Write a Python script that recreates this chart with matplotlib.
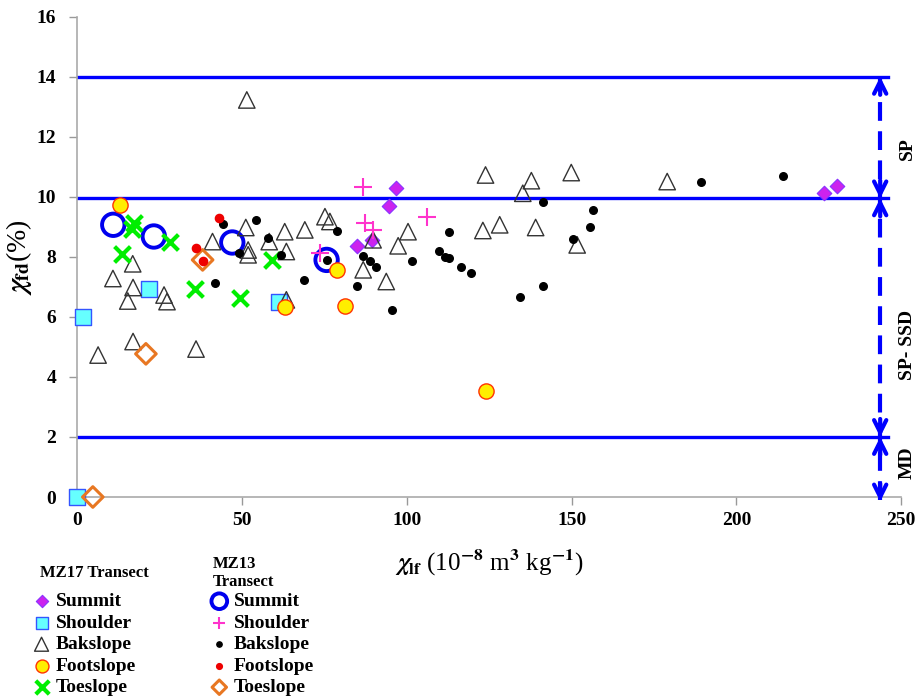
import matplotlib
matplotlib.use('Agg')
import matplotlib.pyplot as plt

plt.rcParams['font.family'] = ['Liberation Serif', 'DejaVu Serif']
plt.rcParams['font.weight'] = 'bold'
plt.rcParams['mathtext.fontset'] = 'stix'

# MZ17 transect
mz17_summit_x = [96.6, 94.5, 84.8, 89.4, 226.7, 230.4]
mz17_summit_y = [10.3, 9.7, 8.37, 8.57, 10.12, 10.37]
mz17_shoulder_x = [1.9, 21.9, 61.2, 0]
mz17_shoulder_y = [6.01, 6.92, 6.5, 0]
mz17_back_x = [51.5, 6.4, 17.0, 36.1, 10.9, 16.9, 17.0, 15.4, 26.4, 27.3, 41.1, 51.2,
               51.9, 51.9, 58.3, 63.0, 63.5, 69.1, 75.2, 76.7, 89.8, 86.8, 93.8, 97.4,
               100.4, 63.5, 123.9, 137.8, 135.2, 149.9, 123.1, 128.2, 139.1, 151.7, 179.0]
mz17_back_y = [13.23, 4.73, 5.18, 4.93, 7.28, 7.77, 6.98, 6.53, 6.73, 6.51, 8.51, 8.98,
               8.23, 8.07, 8.51, 8.84, 8.18, 8.9, 9.34, 9.18, 8.57, 7.57, 7.18, 8.37,
               8.84, 6.57, 10.73, 10.54, 10.12, 10.81, 8.88, 9.07, 8.98, 8.4, 10.51]
mz17_foot_x = [13.0, 79.0, 63.0, 81.2, 123.9]
mz17_foot_y = [9.73, 7.57, 6.34, 6.38, 3.53]
mz17_toe_x = [17.3, 16.6, 28.2, 13.5, 35.8, 49.4, 59.0]
mz17_toe_y = [9.12, 8.93, 8.51, 8.1, 6.92, 6.64, 7.9]

# MZ13 transect
mz13_summit_x = [11.0, 23.3, 47.1, 75.7]
mz13_summit_y = [9.07, 8.68, 8.48, 7.9]
mz13_shoulder_x = [86.8, 87.3, 89.8, 73.6, 106.2]
mz13_shoulder_y = [10.32, 9.12, 8.9, 8.12, 9.33]
mz13_back_x = [44.2, 54.2, 41.8, 49.1, 58.0, 62.0, 78.9, 75.7, 68.8, 86.8, 88.8, 90.6,
               84.8, 101.6, 95.5, 112.8, 109.7, 111.5, 112.8, 116.6, 119.6, 134.5, 141.3,
               141.3, 156.5, 155.5, 150.4, 189.3, 214.2]
mz13_back_y = [9.09, 9.23, 7.12, 8.14, 8.62, 8.07, 8.87, 7.9, 7.23, 8.03, 7.87, 7.66,
               7.03, 7.87, 6.23, 8.84, 8.2, 8.01, 7.96, 7.66, 7.48, 6.66, 7.04,
               9.84, 9.57, 8.98, 8.6, 10.51, 10.7]
mz13_foot_x = [43.1, 36.1, 38.1]
mz13_foot_y = [9.29, 8.31, 7.88]
mz13_toe_x = [38.1, 20.9, 4.8]
mz13_toe_y = [7.9, 4.77, 0]

# class limits
limits = [14, 9.95, 2]
arrow_x = 243.6

fig = plt.figure(figsize=(9.21, 7), dpi=100)
ax = fig.add_axes([0.0836, 0.29, 0.895, 0.686])

for yl in limits:
    ax.plot([0, 246], [yl, yl], color='#0000ff', lw=2.4, zorder=1)

s1 = ax.scatter(mz17_summit_x, mz17_summit_y, marker='D', s=55, c='#cc22ee',
                edgecolors='#8833ff', linewidths=0.8, zorder=3, label='Summit')
s2 = ax.scatter(mz17_shoulder_x, mz17_shoulder_y, marker='s', s=120, c='#66ffff',
                edgecolors='#3355ff', linewidths=1, zorder=3, clip_on=False, label='Shoulder')
s3 = ax.scatter(mz17_back_x, mz17_back_y, marker='^', s=140, facecolors='none',
                edgecolors='#333333', linewidths=1, zorder=3, label='Bakslope')
s4 = ax.scatter(mz17_foot_x, mz17_foot_y, marker='o', s=120, c='#ffee00',
                edgecolors='#ff3300', linewidths=1, zorder=3, label='Footslope')
s5 = ax.scatter(mz17_toe_x, mz17_toe_y, marker='x', s=130, c='#00ee00',
                linewidths=3, zorder=3, label='Toeslope')

t1 = ax.scatter(mz13_summit_x, mz13_summit_y, marker='o', s=260, facecolors='none',
                edgecolors='#0000ee', linewidths=2.8, zorder=2, label='Summit')
t2 = ax.scatter(mz13_shoulder_x, mz13_shoulder_y, marker='+', s=150, c='#ff33cc',
                linewidths=1.5, zorder=3, label='Shoulder')
t3 = ax.scatter(mz13_back_x, mz13_back_y, marker='o', s=30, c='black',
                zorder=4, label='Bakslope')
t4 = ax.scatter(mz13_foot_x, mz13_foot_y, marker='o', s=35, c='#ee0000',
                zorder=4, label='Footslope')
t5 = ax.scatter(mz13_toe_x, mz13_toe_y, marker='D', s=110, facecolors='none',
                edgecolors='#e87722', linewidths=2.2, zorder=3, clip_on=False, label='Toeslope')

# dashed arrows on the right
ax.plot([arrow_x, arrow_x], [-0.1, 14], color='#0000ff', lw=3, dashes=(4.5, 2.5),
        zorder=2, clip_on=False)
heads = [(14, 13.4), (limits[1], limits[1] + 0.6), (limits[1], limits[1] - 0.6),
         (2, 2.6), (2, 1.4), (-0.15, 0.45)]
for tip, tail in heads:
    ax.annotate('', xy=(arrow_x, tip), xytext=(arrow_x, tail),
                arrowprops=dict(arrowstyle='->', lw=3, color='#0000ff', mutation_scale=22,
                                shrinkA=0, shrinkB=0),
                annotation_clip=False)

ax.text(251.8, 11.6, 'SP', rotation=90, ha='center', va='center', fontsize=14)
ax.text(251.8, 5.07, 'SP- SSD', rotation=90, ha='center', va='center', fontsize=14)
ax.text(251.8, 1.13, 'MD', rotation=90, ha='center', va='center', fontsize=14)

ax.set_xlim(0, 250)
ax.set_ylim(0, 16)
ax.set_xticks(range(0, 251, 50))
ax.set_yticks(range(0, 17, 2))
ax.tick_params(axis='both', colors='#999999', labelcolor='black', labelsize=14,
               length=6, width=1)
ax.tick_params(axis='y', pad=9)
ax.tick_params(axis='x', pad=5)
for sp in ['top', 'right']:
    ax.spines[sp].set_visible(False)
for sp in ['left', 'bottom']:
    ax.spines[sp].set_color('#aaaaaa')
    ax.spines[sp].set_linewidth(1.2)

ax.set_xlabel(r'$\chi_{\mathbf{lf}}$ (10$^{\mathbf{-8}}$ m$^{\mathbf{3}}$ kg$^{\mathbf{-1}}$)',
              fontsize=18, labelpad=13)
ax.set_ylabel(r'$\chi_{\mathbf{fd}}$(%)', fontsize=20, labelpad=2)

# legend headers
fig.text(40 / 921, 1 - 573 / 700, 'MZ17 Transect', fontsize=12, va='center', ha='left')
fig.text(213 / 921, 1 - 573 / 700, 'MZ13\nTransect', fontsize=12, va='center', ha='left',
         linespacing=1.25)

leg1 = fig.legend(handles=[s1, s2, s3, s4, s5], loc='upper left',
                  bbox_to_anchor=(0.024, 1 - 583 / 700), frameon=False,
                  fontsize=14, handlelength=1.0, handletextpad=0.25, labelspacing=0.2,
                  borderpad=0, markerscale=0.85)
leg2 = fig.legend(handles=[t1, t2, t3, t4, t5], loc='upper left',
                  bbox_to_anchor=(0.217, 1 - 583 / 700), frameon=False,
                  fontsize=14, handlelength=1.0, handletextpad=0.25, labelspacing=0.2,
                  borderpad=0, markerscale=0.7)

fig.savefig('out.png', dpi=100)
